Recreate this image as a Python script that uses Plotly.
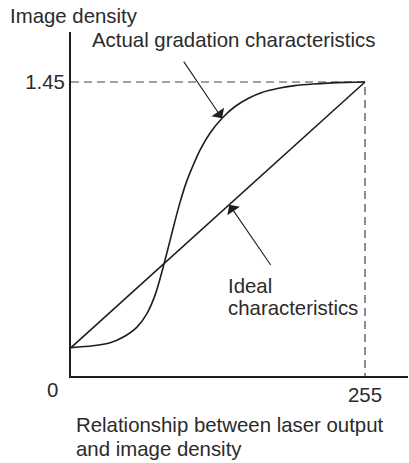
import plotly.graph_objects as go

# Laser output (0-255) vs. image density
actual_x = [0, 19, 34, 45, 57, 66, 73, 77, 81, 86, 90, 94.5, 100, 106, 112,
            120.5, 131, 142, 154, 165, 180, 194, 210, 239, 255]
actual_y = [0.14, 0.149, 0.164, 0.191, 0.240, 0.309, 0.40, 0.475, 0.56, 0.67,
            0.76, 0.855, 0.955, 1.04, 1.115, 1.197, 1.271, 1.328, 1.370, 1.397,
            1.419, 1.432, 1.44, 1.448, 1.45]

ideal_x = [0, 255]
ideal_y = [0.14, 1.45]

max_output = 255
max_density = 1.45

x_tick_vals = [255]
x_tick_text = ["255"]
y_tick_vals = [1.45]
y_tick_text = ["1.45"]
origin_label = "0"

W, H = 409, 463
L, R, T, B = 71, 1, 32, 87
XMAX = 292.3
YMAX = 1.6966

INK = "#1e1e1e"
TXT = "#2b2b2b"
FONT = "Liberation Sans, Arial, Helvetica, sans-serif"
FS = 20.4

fig = go.Figure()

# reference guides at the maximum output / density
fig.add_trace(go.Scatter(
    x=[0, max_output, max_output], y=[max_density, max_density, 0],
    mode="lines", line=dict(color="#444", width=1.2, dash="8px,5px"),
    hoverinfo="skip", showlegend=False))

fig.add_trace(go.Scatter(
    x=ideal_x, y=ideal_y, mode="lines",
    line=dict(color=INK, width=1.6), showlegend=False))

fig.add_trace(go.Scatter(
    x=actual_x, y=actual_y, mode="lines",
    line=dict(color=INK, width=1.6, shape="spline", smoothing=0.8),
    showlegend=False))


def px_x(p):
    return (p - L) / (W - L - R)


def px_y(p):
    return (H - B - p) / (H - T - B)


def label(text, xp, yp, xanchor="left"):
    fig.add_annotation(text=text, x=px_x(xp), y=px_y(yp), xref="paper",
                       yref="paper", xanchor=xanchor, yanchor="middle",
                       showarrow=False, font=dict(size=FS, color=TXT, family=FONT))


label("Image density", 8, 16)
label("Actual gradation characteristics", 90, 40)
label("Ideal", 226, 286)
label("characteristics", 226, 308)
label("Relationship between laser output", 74, 425)
label("and image density", 74, 449)
label(origin_label, 52, 390, xanchor="center")

# pointer arrows
arrow = dict(showarrow=True, text="", axref="x", ayref="y", xref="x", yref="y",
             arrowhead=1, arrowsize=2.3, arrowwidth=1.1, arrowcolor=INK)
fig.add_annotation(x=131, y=1.271, ax=96.9, ay=1.558, **arrow)
fig.add_annotation(x=137.3, y=0.845, ax=174.1, ay=0.54, **arrow)

fig.update_xaxes(range=[0, XMAX], showgrid=False, zeroline=False,
                 showline=True, linecolor=INK, linewidth=2,
                 tickvals=x_tick_vals, ticktext=x_tick_text, ticks="",
                 tickfont=dict(size=FS, color=TXT, family=FONT))
fig.update_yaxes(range=[0, YMAX], showgrid=False, zeroline=False,
                 showline=True, linecolor=INK, linewidth=2,
                 tickvals=y_tick_vals, ticktext=y_tick_text, ticks="",
                 tickfont=dict(size=FS, color=TXT, family=FONT))

fig.update_layout(width=W, height=H, margin=dict(l=L, r=R, t=T, b=B),
                  plot_bgcolor="white", paper_bgcolor="white",
                  showlegend=False)

fig.write_html("out.html")
